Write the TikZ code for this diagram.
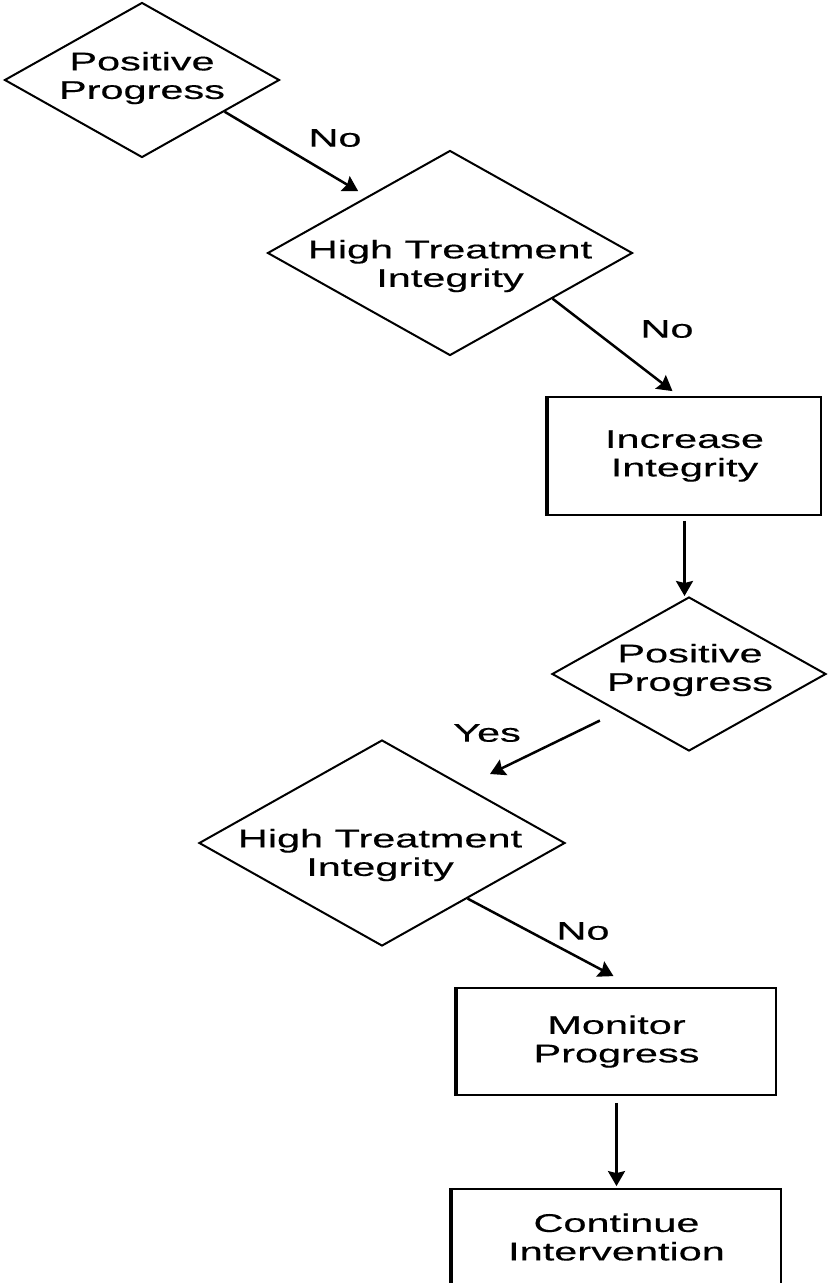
\documentclass[tikz,border=0pt]{standalone}
\usepackage{fontspec}
\setmainfont{Liberation Sans}[FakeStretch=1.62, FakeBold=0.4]
\usetikzlibrary{arrows.meta,shapes.geometric}

\begin{document}
\begin{tikzpicture}[
  x=1pt, y=-1pt,
  font=\fontsize{25.6}{28.5}\selectfont,
  rombo/.style={draw, diamond, line width=2pt, inner sep=0pt},
  texto/.style={align=center, inner sep=0pt},
  caja/.style={draw, line width=1.8pt, inner sep=0pt, align=center},
  borde/.style={line width=4.5pt},
  flecha/.style={-{Stealth[length=15pt,width=17pt,inset=2pt]}, line width=2.5pt},
  etiq/.style={inner sep=0pt}
]
  \useasboundingbox (0,0) rectangle (828,1283);

  \node[rombo, minimum width=275pt, minimum height=155pt] (d1) at (142,80) {};
  \node[texto] (d1txt) at (142,78) {Positive\\Progress};

  \node[rombo, minimum width=365pt, minimum height=205pt] (d2) at (450,253) {};
  \node[texto] (d2txt) at (450,266) {High Treatment\\Integrity};
  \draw[flecha] (d1.-21) -- ([yshift=10pt]d2.north west);
  \node[etiq] (no1) at (335,138) {No};

  \node[caja, minimum width=273pt, minimum height=118pt] (b1) at (684.5,456) {Increase\\Integrity};
  \draw[borde] (b1.north west) -- (b1.south west);
  \draw[flecha] (d2.-24) -- ([xshift=-12pt,yshift=5pt]b1.north);
  \node[etiq] (no2) at (667,329) {No};

  \node[rombo, minimum width=274pt, minimum height=154pt] (d3) at (689,674) {};
  \node[texto] (d3txt) at (690,670) {Positive\\Progress};
  \draw[flecha] ([yshift=-5pt]b1.south) -- (b1.south |- d3.north);

  \node[rombo, minimum width=366pt, minimum height=206pt] (d4) at (382,843) {};
  \node[texto] (d4txt) at (380,855) {High Treatment\\Integrity};
  \draw[flecha, shorten <=20pt] (d3.208) -- ([xshift=16pt,yshift=17pt]d4.north east);
  \node[etiq] (si) at (487,733) {Yes};

  \node[caja, minimum width=319pt, minimum height=107pt] (b2) at (616.5,1041.5) {Monitor\\Progress};
  \draw[borde] (b2.north west) -- (b2.south west);
  \draw[flecha] (d4.-33) -- ([xshift=-3pt,yshift=11pt]b2.north);
  \node[etiq] (no3) at (583,931) {No};

  \node[caja, minimum width=329pt, minimum height=96pt] (b3) at (616.5,1237) {Continue\\Intervention};
  \draw[borde] (b3.north west) -- (b3.south west);
  \draw[flecha] ([yshift=-7pt]b2.south) -- ([yshift=2pt]b3.north);
\end{tikzpicture}
\end{document}
